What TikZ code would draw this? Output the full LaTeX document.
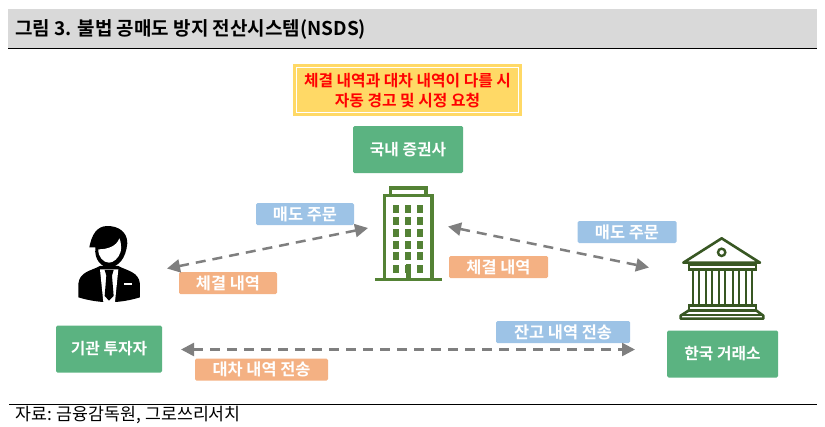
\documentclass[tikz,border=0pt]{standalone}
\usepackage{fontspec}
\setmainfont{Noto Sans CJK KR}[BoldFont={Noto Sans CJK KR Bold}]
\usetikzlibrary{arrows.meta}
\definecolor{gbox}{HTML}{5BB381}
\definecolor{blab}{HTML}{9DC3E6}
\definecolor{olab}{HTML}{F4B183}
\definecolor{bld}{HTML}{548235}
\definecolor{bnk}{HTML}{385723}
\definecolor{arr}{HTML}{7F7F7F}
\definecolor{band}{HTML}{D9D9D9}
\definecolor{warn}{HTML}{FFD966}
\tikzset{
  greenbox/.style={fill=gbox,rounded corners=1.5pt,minimum width=#1,minimum height=47pt,inner sep=0pt,text=white,font=\bfseries\fontsize{15.8}{18}\selectfont},
  lab/.style={fill=#1,rounded corners=1.5pt,minimum height=22pt,inner sep=0pt,text=white,font=\bfseries\fontsize{16.4}{18}\selectfont},
  flow/.style={draw=arr,line width=2.5pt,dash pattern=on 10pt off 7pt,{Triangle[length=13pt,width=13pt]}-{Triangle[length=13pt,width=13pt]}},
  bldline/.style={draw=bld,line width=3.2pt},
  bnkline/.style={draw=bnk,line width=2.6pt}
}
\begin{document}
\begin{tikzpicture}[x=1pt,y=-1pt]
\useasboundingbox (0,0) rectangle (825,426);
\fill[band] (8,9) rectangle (817,48);
\draw[black,line width=1pt] (8,48) -- (817,48);
\node[anchor=west,inner sep=0pt,font=\bfseries\fontsize{19}{21}\selectfont] (title) at (15,29.5) {그림 3. 불법 공매도 방지 전산시스템(NSDS)};
\draw[black,line width=1pt] (9,404) -- (817,404);
\node[anchor=west,inner sep=0pt,font=\fontsize{17.3}{19}\selectfont] (src) at (15,415) {자료: 금융감독원, 그로쓰리서치};
% warning
\fill[warn] (293,64) rectangle (522,116);
\draw[white,line width=1pt] (296.5,67.5) rectangle (518.5,112.5);
\node[align=center,text=red,inner sep=0pt,font=\bfseries\fontsize{15.8}{20.5}\selectfont] (warnt) at (407.5,90.5) {체결 내역과 대차 내역이 다를 시\\자동 경고 및 시정 요청};
% boxes
\node[greenbox=110pt] (broker) at (408,149.5) {국내 증권사};
\node[greenbox=106pt] (inst) at (109,349) {기관 투자자};
\node[greenbox=111pt] (krx) at (722.5,354) {한국 거래소};
% labels
\node[lab=blab,minimum width=98pt] (l1) at (305,214) {매도 주문};
\node[lab=olab,minimum width=98pt] (l2) at (228,283) {체결 내역};
\node[lab=blab,minimum width=99pt] (l3) at (627,232) {매도 주문};
\node[lab=olab,minimum width=99pt] (l4) at (498.5,267) {체결 내역};
\node[lab=blab,minimum width=134pt] (l5) at (563,332) {잔고 내역 전송};
\node[lab=olab,minimum width=133pt] (l6) at (261.5,369.5) {대차 내역 전송};
% connector ends
\coordinate (a1) at (167,268.5); \coordinate (a2) at (368,228);
\coordinate (b1) at (448,226.5); \coordinate (b2) at (649,267.5);
\coordinate (c1) at (181,349.5); \coordinate (c2) at (635,349.5);
\draw[flow] (a1) -- (a2);
\draw[flow] (b1) -- (b2);
\draw[flow] (c1) -- (c2);
% building
\draw[bldline] (384.5,280) -- (384.5,195.5) -- (432,195.5) -- (432,280);
\draw[bldline] (390.5,195) -- (390.5,188) -- (426,188) -- (426,195);
\fill[bld] (375,277.5) rectangle (442,281);
\foreach \x in {396,408,420}\foreach \y in {208.5,220.5,232.5,244.5,256,268.5}{\fill[bld] (\x-3,\y-4) rectangle (\x+3,\y+4);}
\fill[bld] (405.5,264) rectangle (411,278);
% person
\begin{scope}[shift={(50,210)},x=0.3333pt,y=-0.3333pt]
\fill[black] (150,168) .. controls (125,182) and (88,185) .. (85,222) -- (85,262) .. controls (105,268) and (130,274) .. (160,276) -- (196,276) .. controls (225,274) and (250,268) .. (270,262) -- (270,222) .. controls (267,185) and (230,182) .. (205,168) -- cycle;
\fill[white] (150,178) -- (205,178) -- (195,276) -- (160,276) -- cycle;
\fill[black] (164,180) -- (191,180) -- (186,197) -- (191,258) -- (177,272) -- (164,258) -- (169,197) -- cycle;
\fill[white] (222,220) rectangle (246,225);
\fill[black] (136,112) .. controls (132,150) and (155,172) .. (177,172) .. controls (205,172) and (228,145) .. (232,100) .. controls (232,65) and (205,48) .. (172,48) .. controls (140,48) and (125,75) .. (118,112) -- cycle;
\fill[white] (145,118) .. controls (175,118) and (200,108) .. (208,85) .. controls (214,95) and (214,115) .. (212,125) .. controls (206,145) and (190,158) .. (177,158) .. controls (160,158) and (144,140) .. (145,118) -- cycle;
\end{scope}
% bank
\begin{scope}[shift={(660,225)},x=0.3333pt,y=-0.3333pt]
\draw[bnkline,line join=round] (185,40) -- (70,113) -- (300,113) -- cycle;
\draw[bnk,line width=2.4pt] (185,82) circle (11);
\draw[bnkline] (87,120) rectangle (288,133);
\foreach \x in {97,136,176,216,255}{\draw[bnk,line width=2.2pt] (\x+2,133) rectangle (\x+20,240);}
\draw[bnkline] (87,241) rectangle (288,256);
\draw[bnkline,line join=round] (87,256) -- (62,272) -- (62,281) -- (310,281) -- (310,272) -- (288,256);
\draw[bnk,line width=1.8pt] (70,270) -- (302,270);
\end{scope}
\end{tikzpicture}
\end{document}
